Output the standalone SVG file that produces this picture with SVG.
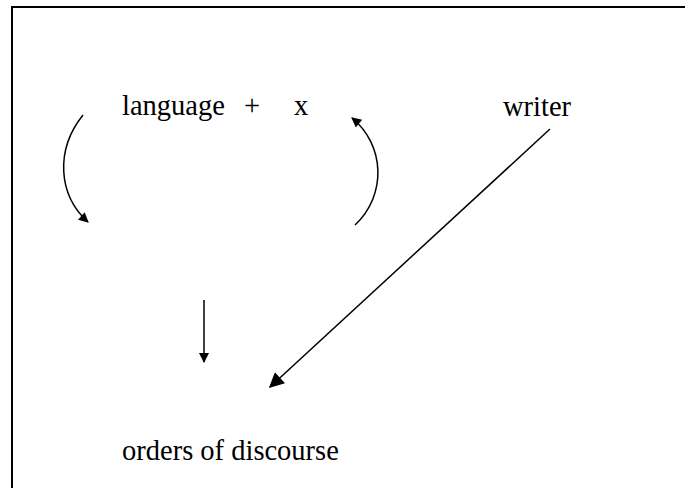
<svg xmlns="http://www.w3.org/2000/svg" width="685" height="488" viewBox="0 0 685 488">
<style>
.t{font-family:"Liberation Serif","Times New Roman",serif;font-size:28.5px;fill:#000}
.c{fill:none;stroke:#000;stroke-width:1.5}
</style>
<defs>
<marker id="ahL" viewBox="0 0 10 10" refX="9" refY="5" markerWidth="17" markerHeight="15" markerUnits="userSpaceOnUse" orient="auto"><path d="M0,0 L10,5 L0,10 z" fill="#000"/></marker>
<marker id="ahM" viewBox="0 0 10 10" refX="9" refY="5" markerWidth="12" markerHeight="10" markerUnits="userSpaceOnUse" orient="auto"><path d="M0,0 L10,5 L0,10 z" fill="#000"/></marker>
</defs>
<rect x="12" y="7" width="700" height="500" fill="#fff" stroke="#000" stroke-width="2"/>
<g id="language">
<text class="t" y="115"><tspan x="122">language</tspan><tspan x="244">+</tspan><tspan x="294">x</tspan></text>
</g>
<g id="writer"><text class="t" x="503" y="116">writer</text></g>
<g id="orders"><text class="t" x="122" y="460">orders of discourse</text></g>
<g id="connectors">
<path class="c" d="M83,115 C55,150 58,195 88,222" marker-end="url(#ahM)"/>
<path class="c" d="M355,225 C387,195 385,145 352,118" marker-end="url(#ahM)"/>
<path class="c" d="M550,129 L270,387" marker-end="url(#ahL)"/>
<path class="c" d="M204,300 L204,362" marker-end="url(#ahM)"/>
</g>
</svg>
